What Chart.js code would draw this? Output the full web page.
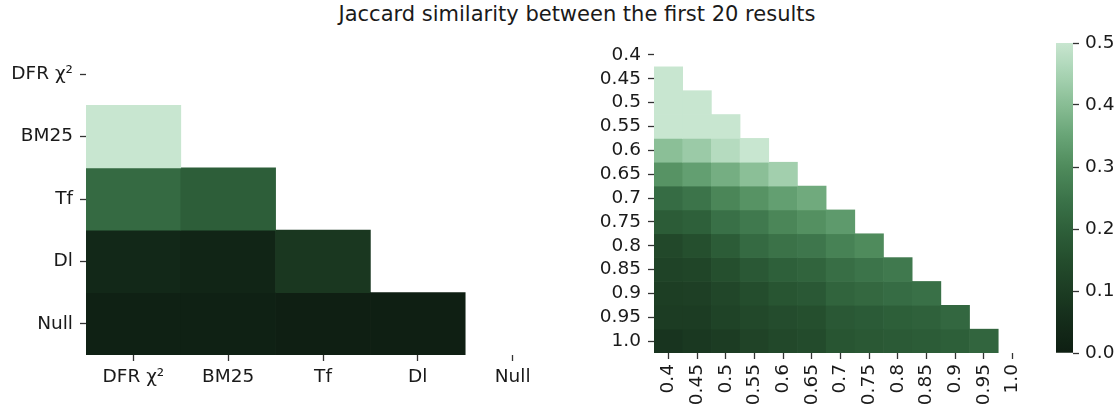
<!DOCTYPE html>
<html>
<head>
<meta charset="utf-8">
<script src="https://cdn.jsdelivr.net/npm/chart.js@4/dist/chart.umd.min.js"></script>
<style>
    body { margin: 0; background: #fff; }
    #wrap { position: relative; width: 1118px; height: 412px; overflow: hidden; }
    canvas { position: absolute; top: 0; }
    #title {
        position: absolute; top: 2px; left: 0; width: 1154px;
        text-align: center; font: 21px "DejaVu Sans"; color: #1a1a1a; line-height: 24px;
    }
</style>
</head>
<body>
<div id="wrap">
    <div id="title">Jaccard similarity between the first 20 results</div>
    <canvas id="left" style="left:0px" width="575" height="412"></canvas>
    <canvas id="right" style="left:580px" width="460" height="412"></canvas>
    <canvas id="cbar" style="left:1040px" width="78" height="412"></canvas>
</div>
<script>
// data (lower triangle only, null = masked)
var modelLabels = ["DFR χ²", "BM25", "Tf", "Dl", "Null"];
var modelValues = [
    [null, null, null, null, null],
    [0.5, null, null, null, null],
    [0.225, 0.195, null, null, null],
    [0.035, 0.025, 0.085, null, null],
    [0.01, 0.01, 0.005, 0.005, null],
];

var cutLabels = ["0.4", "0.45", "0.5", "0.55", "0.6", "0.65", "0.7", "0.75", "0.8", "0.85", "0.9", "0.95", "1.0"];
var cutValues = [
    [],
    [0.5],
    [0.5, 0.5],
    [0.5, 0.5, 0.5],
    [0.405, 0.43, 0.47, 0.5],
    [0.315, 0.34, 0.37, 0.405, 0.44],
    [0.23, 0.25, 0.29, 0.315, 0.34, 0.362],
    [0.19, 0.2, 0.24, 0.26, 0.29, 0.31, 0.33],
    [0.135, 0.155, 0.19, 0.225, 0.245, 0.255, 0.28, 0.3],
    [0.12, 0.125, 0.155, 0.18, 0.2, 0.21, 0.235, 0.25, 0.26],
    [0.105, 0.11, 0.13, 0.15, 0.17, 0.18, 0.21, 0.22, 0.23, 0.24],
    [0.1, 0.1, 0.12, 0.135, 0.148, 0.155, 0.18, 0.187, 0.197, 0.203, 0.218],
    [0.075, 0.088, 0.1, 0.122, 0.135, 0.145, 0.17, 0.178, 0.185, 0.19, 0.197, 0.213],
];

var cbarTicks = [0, 0.1, 0.2, 0.3, 0.4, 0.5];

// colour map, value -> rgb (vmin 0, vmax 0.5)
var cmapStops = [
    [0.0, 14, 30, 18],
    [0.05, 20, 44, 26],
    [0.1, 28, 60, 35],
    [0.15, 36, 77, 45],
    [0.2, 46, 96, 58],
    [0.25, 60, 116, 74],
    [0.3, 79, 139, 92],
    [0.35, 104, 164, 118],
    [0.4, 136, 189, 148],
    [0.45, 168, 211, 179],
    [0.5, 200, 230, 208],
];

function colorAt(v) {
    v = Math.max(0, Math.min(0.5, v));
    for (let i = 1; i < cmapStops.length; i++) {
        var a = cmapStops[i - 1], b = cmapStops[i];
        if (v <= b[0]) {
            var t = (v - a[0]) / (b[0] - a[0]);
            var c = [1, 2, 3].map(function (k) { return Math.round(a[k] + (b[k] - a[k]) * t); });
            return "rgb(" + c.join(",") + ")";
        }
    }
    return "rgb(200,230,208)";
}

Chart.defaults.font.family = "DejaVu Sans";
Chart.defaults.font.size = 18.5;
Chart.defaults.color = "#1a1a1a";

var tickGrid = { drawOnChartArea: false, offset: false, tickLength: 6, tickColor: "#333", tickWidth: 1.3 };

function heatmap(id, labels, values, yWidth, xHeight, padRight, rot) {
    var datasets = values.map(function (row, r) {
        var data = labels.map(function (_, j) {
            return row[j] === undefined || row[j] === null ? null : [r, r + 1];
        });
        return {
            data: data,
            backgroundColor: labels.map(function (_, j) {
                return data[j] ? colorAt(row[j]) : "rgba(0,0,0,0)";
            }),
            grouped: false,
            barPercentage: 1,
            categoryPercentage: 1,
            borderWidth: 0,
        };
    });

    var config = {
        type: "bar",
        data: { labels: labels, datasets: datasets },
        options: {
            responsive: false,
            animation: false,
            layout: { padding: { top: 43, right: padRight, bottom: 0, left: 0 } },
            plugins: { legend: { display: false }, tooltip: { enabled: false } },
            scales: {
                x: {
                    type: "category",
                    offset: true,
                    afterFit: function (s) { s.height = xHeight; },
                    ticks: { autoSkip: false, padding: 5, minRotation: rot, maxRotation: rot },
                    grid: tickGrid,
                    border: { display: false },
                },
                y: {
                    type: "linear",
                    min: 0,
                    max: labels.length,
                    reverse: true,
                    afterBuildTicks: function (s) {
                        s.ticks = labels.map(function (_, i) { return { value: i + 0.5 }; });
                    },
                    afterFit: function (s) { s.width = yWidth; },
                    ticks: {
                        autoSkip: false,
                        padding: 7,
                        callback: function (v, i) { return labels[i]; },
                    },
                    grid: tickGrid,
                    border: { display: false },
                },
            },
        },
    };
    return new Chart(document.getElementById(id), config);
}

heatmap("left", modelLabels, modelValues, 86, 57, 15, 0);
heatmap("right", cutLabels, cutValues, 74, 59, 6, 90);

// colour bar
new Chart(document.getElementById("cbar"), {
    type: "bar",
    data: {
        labels: [""],
        datasets: [{
            data: [[cbarTicks[0], cbarTicks[cbarTicks.length - 1]]],
            barPercentage: 1,
            categoryPercentage: 1,
            borderWidth: 0,
            backgroundColor: function (ctx) {
                var area = ctx.chart.chartArea;
                if (!area) return null;
                var g = ctx.chart.ctx.createLinearGradient(0, area.bottom, 0, area.top);
                for (let i = 0; i <= 50; i++) {
                    g.addColorStop(i / 50, colorAt(0.5 * i / 50));
                }
                return g;
            },
        }],
    },
    options: {
        responsive: false,
        animation: false,
        layout: { padding: { top: 43, right: 0, bottom: 59, left: 16 } },
        plugins: { legend: { display: false }, tooltip: { enabled: false } },
        scales: {
            x: { display: false },
            y: {
                position: "right",
                min: 0,
                max: 0.5,
                afterBuildTicks: function (s) {
                    s.ticks = cbarTicks.map(function (v) { return { value: v }; });
                },
                afterFit: function (s) { s.width = 45; },
                ticks: { padding: 6, callback: function (v) { return v.toFixed(1); } },
                grid: { drawOnChartArea: false, tickLength: 6, tickColor: "#333", tickWidth: 1.3 },
                border: { display: false },
            },
        },
    },
});
</script>
</body>
</html>
